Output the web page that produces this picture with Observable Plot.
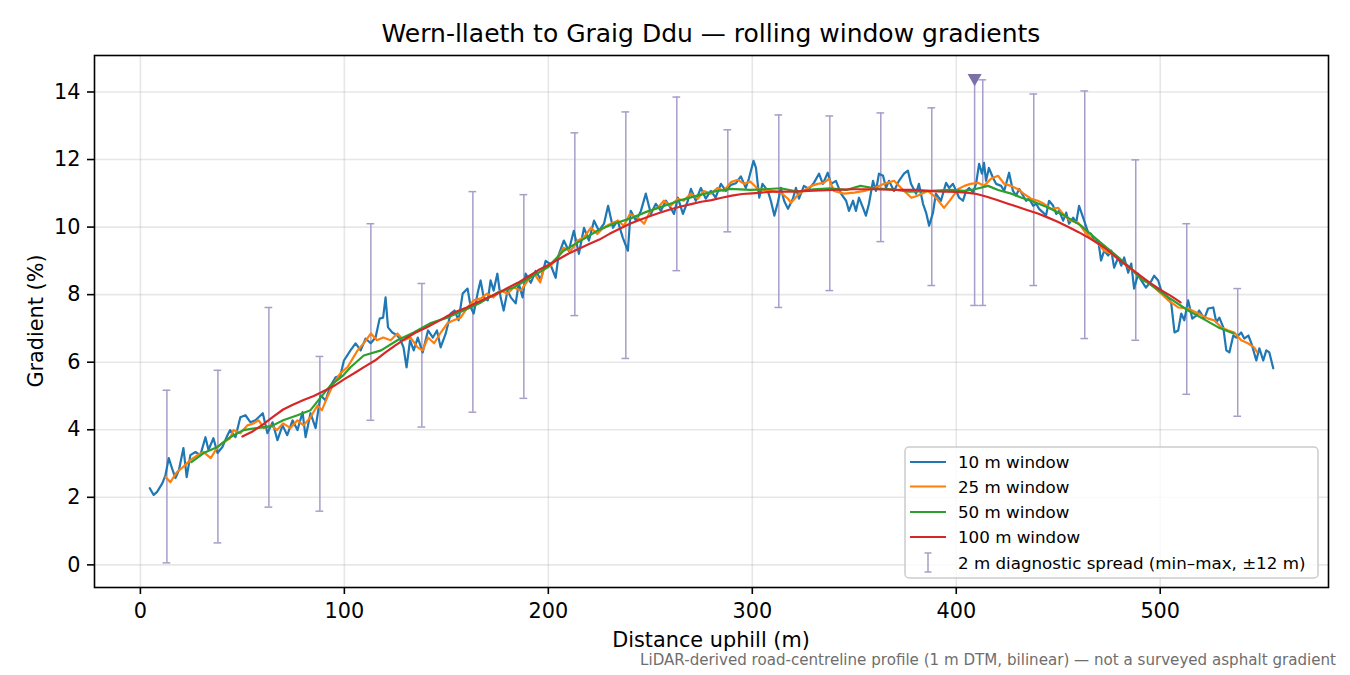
<!DOCTYPE html>
<html><head><meta charset="utf-8">
<script src="https://cdn.jsdelivr.net/npm/d3@7"></script>
<script src="https://cdn.jsdelivr.net/npm/@observablehq/plot@0.6"></script>
<style>
body{margin:0;background:#fff;}
#wrap{position:relative;width:1350px;height:675px;font-family:"DejaVu Sans",sans-serif;}
#wrap > svg{position:absolute;left:0;top:0;}
</style></head><body><div id="wrap"></div>
<script>
const titleText = "Wern-llaeth to Graig Ddu — rolling window gradients";
const xLabel = "Distance uphill (m)";
const yLabel = "Gradient (%)";
const footText = "LiDAR-derived road-centreline profile (1 m DTM, bilinear) — not a surveyed asphalt gradient";
const xTicks = [0, 100, 200, 300, 400, 500];
const yTicks = [0, 2, 4, 6, 8, 10, 12, 14];
const seriesNames = ["10 m window", "25 m window", "50 m window", "100 m window"];
const seriesColors = ["#1f77b4", "#ff7f0e", "#2ca02c", "#d62728"];
const spreadName = "2 m diagnostic spread (min–max, ±12 m)";

const w10Dist = [4.6,6.5,8.2,10.8,12.3,13.9,15.5,17.2,18.9,21.1,22.7,24.5,27,29.4,31.9,33.4,35.8,37.8,40.2,42.7,44,46.6,49,51.5,54,56.4,60,62.3,64.8,67.2,69.7,72,74.6,77,79.5,81,83.4,85.9,88.3,90.8,93.2,95.7,98,99.8,103,105.5,108,110.4,112.9,115.3,117.3,119,120.2,121.4,123.5,126,127.6,129,130.5,132.2,134,136,138.4,141,143.4,145.4,147.2,149.7,152.1,154,156,158,160.4,162,163.4,165.4,166.8,168.3,170.3,171.7,173.2,175,176.6,178.1,180,181.6,184,185.5,187.4,188.9,191.4,193.8,196.3,198.7,201,203.6,205,207.6,210,212.5,215,217.5,219.9,222.4,224.8,227.3,229.3,231.7,234,236.5,239,240.4,243,245.4,247.8,250.3,252.7,255.2,257.6,260,261.6,263.5,266,268.4,269.9,272.3,274.8,277.2,279.7,282,284.6,287,289.5,292,294.4,296.8,298.3,300.6,301.8,303.4,305,307.6,309.1,310.8,312.5,314,315.6,317.5,319.9,321.4,322.9,325.3,327.8,330.2,332.7,334.6,337,338.6,341,343.5,346,347.4,349.4,350.8,352.3,354.3,355.7,357.2,359.2,360.6,362.1,364.1,365.6,367,369.5,371.9,374.4,376.3,377.8,380.3,381.7,383.7,385.2,386.7,388.6,390,392.5,395,396.5,398.4,400,401.4,403.3,404.8,406.3,408.2,409.7,411.2,412.6,413.6,414.6,416,418,419.5,422,423.5,425.9,427.8,429.3,430.8,432.8,434.2,435.7,437.7,439.2,440.6,442.6,444,445.5,447.5,449,450.4,452.4,453.9,455.3,457.3,458.8,460.2,462.2,463.2,464.7,466.1,467.6,469.6,471,472.5,474.5,476,477.4,479.4,480.9,482.3,484.3,485.8,487.2,489.2,490.7,493,495.6,497,499,500.5,503,505.4,507,508.8,510.3,511.8,513.7,515.7,517.7,519.1,521.6,523.5,526,527.5,529,530.9,532.4,533.9,535.8,537.3,539.7,541.2,543.2,544.7,547.1,548.6,550.5,552,553.5,555.4];
const w10Grad = [2.27,2.07,2.16,2.42,2.66,3.16,2.86,2.57,2.81,3.46,2.6,3.25,3.34,3.25,3.78,3.4,3.75,3.31,3.49,3.84,3.99,3.78,4.37,4.43,4.22,4.28,4.49,3.9,4.22,3.69,4.13,3.84,4.28,3.99,4.52,3.78,4.49,4.05,5.02,4.87,5.3,5.55,5.6,6.05,6.35,6.56,6.35,6.7,6.56,6.73,7.29,7.32,7.92,7.03,6.88,6.79,6.65,6.44,5.85,6.65,6.35,6.73,6.29,6.94,6.73,6.94,6.44,6.85,7.44,7.53,7.24,8.03,8.18,7.62,7.44,8.06,8.42,7.92,7.83,8.42,8.12,8.62,7.92,7.53,8.12,7.92,7.74,8.33,7.92,8.62,8.35,8.7,8.45,9.0,8.9,8.5,9.16,9.6,9.3,9.89,9.21,9.98,9.6,10.19,9.89,10.1,10.63,9.98,10.19,9.69,9.3,10.48,10.19,10.48,10.99,10.39,10.69,10.48,10.78,10.57,10.39,10.87,10.39,10.78,11.13,10.78,11.16,10.84,11.07,10.87,11.28,11.07,11.25,11.3,11.5,11.16,11.43,11.96,11.75,10.87,11.28,11.07,10.78,10.34,10.72,11.16,10.78,10.54,10.84,11.16,10.84,11.22,11.13,11.31,11.58,11.28,11.61,11.28,11.37,10.99,10.78,10.48,10.78,10.48,10.87,10.57,10.34,10.69,11.37,11.07,11.58,11.52,11.16,11.37,11.07,11.37,11.58,11.67,11.28,10.99,11.28,10.69,10.43,10.04,10.43,10.99,10.78,11.31,11.16,11.28,11.07,10.87,10.78,11.07,11.16,11.02,11.28,11.87,11.58,11.9,11.37,11.75,11.46,11.28,11.22,11.07,11.61,11.07,10.93,11.13,10.93,10.78,10.84,10.63,10.69,10.54,10.43,10.34,10.78,10.63,10.39,10.48,10.19,10.43,10.1,10.28,10.13,10.63,10.28,10.1,9.83,9.8,9.6,9.6,9.01,9.3,9.16,9.3,8.8,9.1,8.86,9.1,8.65,8.92,8.18,8.62,8.42,8.21,8.4,8.56,8.42,8.12,7.97,7.74,6.88,6.94,7.44,7.24,7.83,7.29,7.38,7.53,7.29,7.59,7.62,7.18,7.32,7.03,6.35,6.29,6.79,6.73,6.88,6.7,6.79,6.56,6.05,6.41,6.05,6.35,6.29,5.82];

const w25Dist = [12.3,14.7,18,21,24.5,28,31,34.5,37.8,40.7,44,45.6,49,52.5,55.5,58,60.5,64,67,70,73.6,77,80,83.4,86.8,89,91.6,94.8,98,101.5,104,106.5,109.5,113,116,119,122.7,126,129,132.5,135.9,138.4,141,144,147,150.5,153.6,157,160.4,163.4,167,170,173,176.6,180,183,186.5,190,193,196,198,201,204.6,207.5,211,214.4,217.4,220.8,224,227,230.6,234,237,240,243.9,247,250,253.7,256.6,260,263.5,266.4,269.9,273.3,276.2,279.7,283,286,289.5,293,296,299,302.7,309,314,317.5,319,322,325,329,332,335,337.6,340,345,350,355,360,364.6,369.5,373,378,381,386,388.6,391,394,397,401,404,407,410.7,413.6,417,420.5,423.5,427,430,433,436.7,440,443,446.5,450,453,456,459.8,462.7,466,469.6,472.5,476,479.4,482.3,485.8,489,492,495.6,500.5,504,508.8,513.7,518.6,523.5,526.5,530,533.4,536.3,539.7,543,546,547.5];
const w25Grad = [2.6,2.45,2.75,2.9,3.1,3.25,3.34,3.16,3.49,3.63,3.75,3.99,3.9,4.13,4.19,4.28,4.05,4.13,3.99,4.19,4.05,4.28,4.13,4.37,4.72,4.58,4.96,5.37,5.67,5.85,6.1,6.35,6.56,6.85,6.65,6.73,6.65,6.85,6.65,6.73,6.44,6.35,6.73,6.56,6.85,7.15,7.24,7.32,7.62,7.83,7.89,8.03,7.92,8.12,8.03,8.21,8.12,8.42,8.62,8.36,8.8,8.85,9.1,9.39,9.3,9.6,9.69,9.98,9.8,9.98,10.1,10.19,10.04,10.39,10.28,10.1,10.48,10.57,10.78,10.63,10.84,10.78,10.99,10.84,11.07,10.99,11.16,11.07,11.33,11.4,11.28,11.35,11.13,11.07,11.02,10.84,10.72,10.93,11.07,11.22,11.28,11.31,11.43,11.07,10.99,11.02,11.07,11.16,11.28,11.37,11.16,10.87,10.93,11.07,10.95,10.8,10.57,10.8,11.13,11.22,11.28,11.31,11.22,11.43,11.52,11.28,11.22,11.13,10.99,10.84,10.78,10.69,10.54,10.57,10.34,10.19,10.13,9.89,9.66,9.51,9.3,9.21,9.07,8.92,8.75,8.6,8.45,8.3,8.03,7.83,7.62,7.59,7.44,7.29,7.24,7.03,6.94,6.88,6.65,6.56,6.44,6.3];

const w50Dist = [25,31,37.8,44,50.5,57,64,70,77,83.4,88,93,99.6,103,109.5,118,126,134,142,150.5,158.5,167,175,183,191,199.5,207.5,216,224,232,240,248,257,265,273,281,289.5,299,306,314,322,330,338,346,353,360,368,377,387.6,397,404,409,415.6,420.5,427,432,436.7,445,453,461,469.6,477.6,485.8,490.7,494,504,513.7,520,528.5,536];
const w50Grad = [3.04,3.31,3.49,3.78,3.99,4.05,4.1,4.28,4.43,4.58,4.93,5.3,5.62,5.85,6.2,6.35,6.65,6.88,7.15,7.32,7.53,7.77,8.06,8.21,8.5,8.8,9.3,9.6,9.89,10.1,10.25,10.45,10.63,10.8,10.93,11.05,11.13,11.1,11.12,11.15,11.05,11.12,11.15,11.1,11.22,11.15,11.12,11.05,11.07,11.1,11.07,11.12,11.22,11.1,10.99,10.87,10.78,10.58,10.34,10.05,9.6,9.2,8.77,8.45,8.35,7.92,7.53,7.32,7.03,6.85];

const w100Dist = [50,55,60,65,70,75,80,85,90,95,100,105,110,115,120,125,130,135,140,145,150,155,160,165,170,175,180,185,190,195,200,205,210,215,220,225,230,235,240,245,250,255,260,265,270,275,280,285,290,295,300,310,320,330,340,350,360,370,380,390,400,405,410,415,420,425,430,435,440,445,450,455,460,465,470,475,480,485,490,495,500,505,510];
const w100Grad = [3.8,3.95,4.15,4.38,4.6,4.75,4.88,5.0,5.15,5.3,5.5,5.68,5.87,6.05,6.28,6.5,6.7,6.88,7.02,7.18,7.35,7.5,7.62,7.77,7.9,8.03,8.2,8.35,8.53,8.72,8.88,9.05,9.22,9.36,9.5,9.63,9.8,9.95,10.1,10.22,10.33,10.43,10.53,10.61,10.68,10.75,10.8,10.87,10.93,10.98,11.0,11.05,11.05,11.08,11.1,11.12,11.12,11.1,11.1,11.06,11.04,11.02,10.98,10.9,10.8,10.7,10.6,10.5,10.4,10.28,10.15,10.0,9.85,9.68,9.5,9.28,9.02,8.8,8.57,8.35,8.15,7.97,7.77];

const spreadDist = [13,38,63,88,113,138,163,188,213,238,263,288,313,338,363,388,409,413,438,463,488,513,538];
const spreadLow  = [0.06,0.65,1.71,1.59,4.28,4.08,4.52,4.93,7.38,6.11,8.71,9.86,7.62,8.12,9.57,8.27,7.68,7.68,8.27,6.70,6.65,5.05,4.40];
const spreadHigh = [5.17,5.76,7.62,6.17,10.1,8.33,11.05,10.96,12.79,13.41,13.85,12.88,13.32,13.29,13.38,13.53,14.41,14.36,13.94,14.03,11.99,10.1,8.18];

const steepDist = [409];
const steepGrad = [14.41];

const spreadColor = "#a89dc8";
const markerColor = "#7d70a9";

const toRows = (d, g) => d.map((x, i) => ({d: x, g: g[i]}));
const lineRows = [
  toRows(w10Dist, w10Grad),
  toRows(w25Dist, w25Grad),
  toRows(w50Dist, w50Grad),
  toRows(w100Dist, w100Grad)
];
const spreadRows = spreadDist.map((d, i) => ({d, lo: spreadLow[i], hi: spreadHigh[i]}));
const steepRows = toRows(steepDist, steepGrad);
const capHalf = 1.9;

const chart = Plot.plot({
  width: 1350, height: 675,
  marginLeft: 94, marginRight: 22, marginTop: 55, marginBottom: 88,
  style: {fontFamily: "DejaVu Sans", fontSize: "20.8px", background: "transparent", color: "black"},
  x: {domain: [-22.5, 582.5]},
  y: {domain: [-0.67, 15.08]},
  marks: [
    Plot.gridX(xTicks, {stroke: "#b0b0b0", strokeOpacity: 0.3, strokeWidth: 1.6}),
    Plot.gridY(yTicks, {stroke: "#b0b0b0", strokeOpacity: 0.3, strokeWidth: 1.6}),
    Plot.ruleX(spreadRows, {x: "d", y1: "lo", y2: "hi", stroke: spreadColor, strokeWidth: 1.5}),
    Plot.ruleY(spreadRows, {y: "lo", x1: r => r.d - capHalf, x2: r => r.d + capHalf, stroke: spreadColor, strokeWidth: 1.5}),
    Plot.ruleY(spreadRows, {y: "hi", x1: r => r.d - capHalf, x2: r => r.d + capHalf, stroke: spreadColor, strokeWidth: 1.5}),
    ...lineRows.map((rows, i) => Plot.line(rows, {x: "d", y: "g", stroke: seriesColors[i], strokeWidth: 2.2})),
    Plot.dot(steepRows, {x: "d", y: "g", symbol: "triangle", rotate: 180, r: 5.2, fill: markerColor, stroke: "none"}),
    Plot.frame({stroke: "black", strokeWidth: 1.6}),
    Plot.axisX(xTicks, {tickSize: 7, tickPadding: 9, strokeWidth: 1.6, label: null, fontSize: 20.8}),
    Plot.axisY(yTicks, {tickSize: 7, tickPadding: 7, strokeWidth: 1.6, label: null, fontSize: 20.8})
  ]
});

const wrap = document.getElementById("wrap");
wrap.appendChild(chart);

const ov = d3.create("svg").attr("width", 1350).attr("height", 675)
  .style("font-family", "'DejaVu Sans', sans-serif").style("pointer-events", "none");
ov.append("text").attr("x", 711).attr("y", 42).attr("text-anchor", "middle")
  .attr("font-size", 25).attr("fill", "black").text(titleText);
ov.append("text").attr("x", 711).attr("y", 647).attr("text-anchor", "middle")
  .attr("font-size", 20.8).attr("fill", "black").text(xLabel);
ov.append("text").attr("transform", "translate(43,321) rotate(-90)").attr("text-anchor", "middle")
  .attr("font-size", 20.8).attr("fill", "black").text(yLabel);
ov.append("text").attr("x", 1336).attr("y", 665).attr("text-anchor", "end")
  .attr("font-size", 15.1).attr("fill", "#6e6e6e").text(footText);

// legend
const lg = ov.append("g").attr("transform", "translate(905,447)");
lg.append("rect").attr("width", 413).attr("height", 131).attr("rx", 4)
  .attr("fill", "white").attr("fill-opacity", 0.8).attr("stroke", "#cccccc").attr("stroke-width", 1.5);
const rowY = [15, 39.5, 65, 90, 116];
seriesNames.forEach((name, i) => {
  lg.append("line").attr("x1", 5).attr("x2", 41).attr("y1", rowY[i]).attr("y2", rowY[i])
    .attr("stroke", seriesColors[i]).attr("stroke-width", 2.2);
  lg.append("text").attr("x", 53).attr("y", rowY[i] + 6).attr("font-size", 16.7).attr("fill", "black").text(name);
});
const ey = rowY[4];
lg.append("line").attr("x1", 23).attr("x2", 23).attr("y1", ey - 10).attr("y2", ey + 9).attr("stroke", spreadColor).attr("stroke-width", 1.5);
lg.append("line").attr("x1", 19.5).attr("x2", 26.5).attr("y1", ey - 10).attr("y2", ey - 10).attr("stroke", spreadColor).attr("stroke-width", 1.5);
lg.append("line").attr("x1", 19.5).attr("x2", 26.5).attr("y1", ey + 9).attr("y2", ey + 9).attr("stroke", spreadColor).attr("stroke-width", 1.5);
lg.append("text").attr("x", 53).attr("y", ey + 6).attr("font-size", 16.7).attr("fill", "black").text(spreadName);

wrap.appendChild(ov.node());
</script></body></html>
